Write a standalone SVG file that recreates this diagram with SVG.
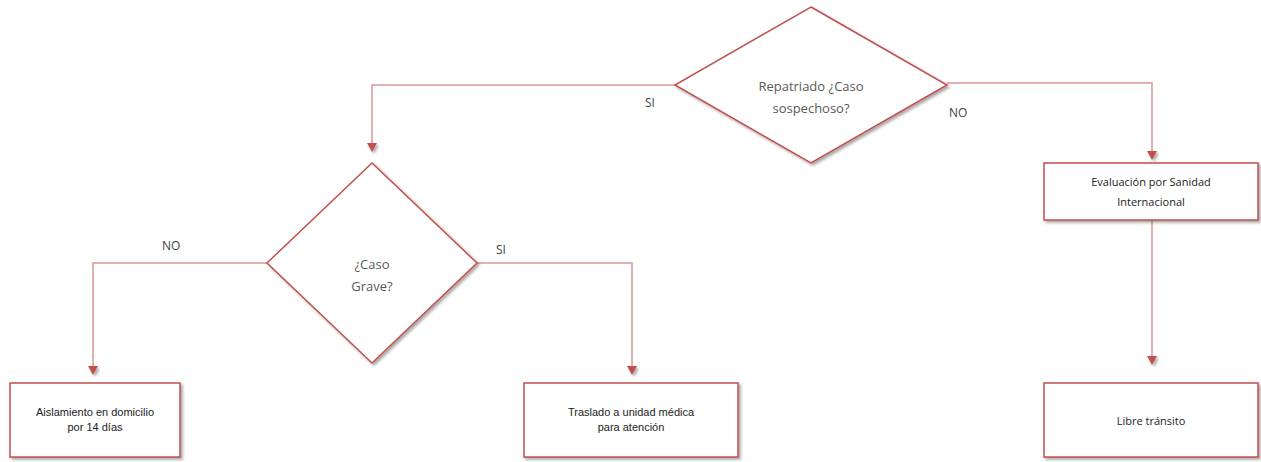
<svg xmlns="http://www.w3.org/2000/svg" width="1261" height="462" viewBox="0 0 1261 462">
  <defs>
    <filter id="sh" x="-10%" y="-10%" width="125%" height="125%">
      <feDropShadow dx="2" dy="2" stdDeviation="1.5" flood-color="#000" flood-opacity="0.35"/>
    </filter>
    <marker id="arr" viewBox="0 0 10 10" refX="5" refY="9" markerWidth="10" markerHeight="10" markerUnits="userSpaceOnUse" orient="auto-start-reverse">
      <path d="M0,0 L10,0 L5,9 Z" fill="#c0504d"/>
    </marker>
  </defs>
  <style>
    .shape { fill: #ffffff; stroke: #c0504d; stroke-width: 1.5; filter: url(#sh); }
    .conn { fill: none; stroke: #d99694; stroke-width: 1.5; }
    .dtext { font-family: "Open Sans", "Liberation Sans", sans-serif; font-size: 13px; fill: #595959; text-anchor: middle; }
    .btext { font-family: "Liberation Sans", Arial, sans-serif; font-size: 11px; fill: #222222; text-anchor: middle; }
    .ltext { font-family: "Open Sans", "Liberation Sans", sans-serif; font-size: 12px; fill: #404040; }
    .arrowhead { fill: #c0504d; filter: url(#sh); }
  </style>
  <rect width="1261" height="462" fill="#ffffff"/>

  <g id="connectors">
    <polyline class="conn" points="675,85 372,85 372,144"/>
    <path class="arrowhead" d="M367,143 L377,143 L372,152 Z"/>
    <polyline class="conn" points="947,83 1152,83 1152,152"/>
    <path class="arrowhead" d="M1147,151 L1157,151 L1152,160 Z"/>
    <polyline class="conn" points="267,263 93,263 93,367"/>
    <path class="arrowhead" d="M88,366 L98,366 L93,375 Z"/>
    <polyline class="conn" points="477,263 632,263 632,367"/>
    <path class="arrowhead" d="M627,366 L637,366 L632,375 Z"/>
    <polyline class="conn" points="1152,220 1152,357"/>
    <path class="arrowhead" d="M1147,356 L1157,356 L1152,365 Z"/>
    <text class="ltext" x="645" y="107">SI</text>
    <text class="ltext" x="949" y="117">NO</text>
    <text class="ltext" x="162" y="250">NO</text>
    <text class="ltext" x="496" y="254">SI</text>
  </g>

  <g id="node-repatriado">
    <polygon class="shape" points="811,7 947,85 811,163 675,85"/>
    <text class="dtext" x="811" y="91">Repatriado ¿Caso</text>
    <text class="dtext" x="811" y="113">sospechoso?</text>
  </g>

  <g id="node-grave">
    <polygon class="shape" points="372,163 477,263 372,363 267,263"/>
    <text class="dtext" x="372" y="269">¿Caso</text>
    <text class="dtext" x="372" y="291">Grave?</text>
  </g>

  <g id="node-evaluacion">
    <rect class="shape" x="1044" y="163" width="214" height="57"/>
    <text class="btext" x="1151" y="186" style="font-family:'Open Sans','Liberation Sans',sans-serif;font-size:11px">Evaluación por Sanidad</text>
    <text class="btext" x="1151" y="206" style="font-family:'Open Sans','Liberation Sans',sans-serif;font-size:11px">Internacional</text>
  </g>

  <g id="node-aislamiento">
    <rect class="shape" x="10" y="383" width="170" height="74"/>
    <text class="btext" x="95" y="416">Aislamiento en domicilio</text>
    <text class="btext" x="95" y="431">por 14 días</text>
  </g>

  <g id="node-traslado">
    <rect class="shape" x="524" y="383" width="214" height="74"/>
    <text class="btext" x="631" y="416">Traslado a unidad médica</text>
    <text class="btext" x="631" y="431">para atención</text>
  </g>

  <g id="node-libre">
    <rect class="shape" x="1044" y="383" width="214" height="74"/>
    <text class="btext" x="1151" y="425" style="font-family:'Open Sans','Liberation Sans',sans-serif;font-size:11px">Libre tránsito</text>
  </g>
</svg>
